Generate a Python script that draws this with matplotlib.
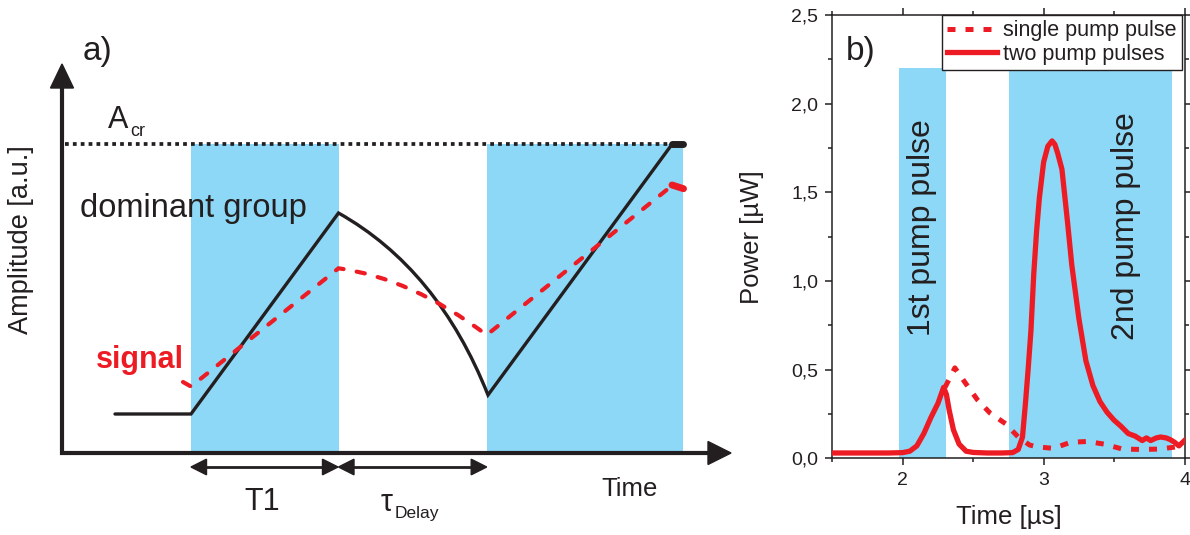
import matplotlib
matplotlib.use("Agg")
import matplotlib.pyplot as plt
from matplotlib.path import Path
from matplotlib.patches import PathPatch, Polygon, Rectangle
from matplotlib.ticker import MultipleLocator, FuncFormatter

plt.rcParams['font.family'] = ['Liberation Sans', 'DejaVu Sans']

INK = '#231f20'
RED = '#ed1c24'
PUMP = '#8ed8f7'

# ---------------- panel a: schematic (drawing units, y grows downward) ----------------
pump_windows_a = [(191, 338.5), (487, 683)]
a_critical_level = 144.3
a_critical_span = (65, 670)
# dominant group: flat, linear growth, decay (quadratic bezier), regrowth
dominant_pts = [(115, 414), (191, 414), (338.5, 213), (438, 269), (488, 395), (672, 144.3)]
dominant_codes = [Path.MOVETO, Path.LINETO, Path.LINETO, Path.CURVE3, Path.CURVE3, Path.LINETO]
dominant_cap = ([672, 683], [144.3, 144.3])
# signal: hook, growth, slow decay (quadratic bezier), regrowth
signal_pts = [(183, 382), (191, 386.5), (338.5, 268.3), (411, 278), (486.7, 335), (671.5, 186)]
signal_codes = [Path.MOVETO, Path.LINETO, Path.LINETO, Path.CURVE3, Path.CURVE3, Path.LINETO]
signal_cap = ([672, 683.5], [185, 188.7])
# time intervals marked under the time axis
interval_T1 = (191, 338)
interval_delay = (338.5, 486.7)

# ---------------- panel b: measured power ----------------
t_two = [1.50, 1.70, 1.90, 2.00, 2.05, 2.10, 2.15, 2.20, 2.25, 2.29, 2.31, 2.33, 2.36,
         2.40, 2.45, 2.50, 2.60, 2.70, 2.78, 2.82, 2.85, 2.87, 2.89, 2.91, 2.93, 2.95,
         2.97, 3.00, 3.03, 3.06, 3.08, 3.10, 3.13, 3.17, 3.20, 3.25, 3.30, 3.35, 3.40,
         3.45, 3.50, 3.55, 3.60, 3.65, 3.70, 3.73, 3.76, 3.80, 3.83, 3.87, 3.90, 3.93,
         3.96, 4.00]
p_two = [0.030, 0.030, 0.030, 0.032, 0.040, 0.070, 0.140, 0.230, 0.310, 0.400, 0.360,
         0.270, 0.160, 0.080, 0.040, 0.033, 0.030, 0.030, 0.032, 0.050, 0.120, 0.300,
         0.500, 0.720, 1.040, 1.280, 1.470, 1.670, 1.760, 1.790, 1.770, 1.720, 1.630,
         1.330, 1.090, 0.790, 0.550, 0.410, 0.320, 0.260, 0.215, 0.180, 0.140, 0.125,
         0.100, 0.115, 0.100, 0.115, 0.120, 0.115, 0.105, 0.090, 0.070, 0.100]
t_single = [2.30, 2.37, 2.44, 2.53, 2.62, 2.73, 2.82, 2.90, 2.95, 3.07, 3.19, 3.31,
            3.43, 3.56, 3.69, 3.82, 3.95, 4.00]
p_single = [0.40, 0.51, 0.43, 0.33, 0.255, 0.195, 0.12, 0.075, 0.065, 0.056, 0.09,
            0.095, 0.08, 0.052, 0.05, 0.052, 0.065, 0.07]
pump_windows_b = [(1.97, 2.31), (2.755, 3.91)]
pump_band_top = 2.2
pump_labels = ['1st pump pulse', '2nd pump pulse']
series_labels = ['single pump pulse', 'two pump pulses']
y_ticks = [0.0, 0.5, 1.0, 1.5, 2.0, 2.5]
x_ticks = [2, 3, 4]

W, H = 1190, 535
fig = plt.figure(figsize=(W / 100, H / 100), dpi=100)

# ---- panel a ----
ax = fig.add_axes([0, 0, 1, 1])
ax.set_xlim(0, W)
ax.set_ylim(H, 0)
ax.axis('off')

for x0, x1 in pump_windows_a:
    ax.add_patch(Rectangle((x0, a_critical_level), x1 - x0, 451 - a_critical_level,
                           facecolor=PUMP, edgecolor='none', zorder=1))

ax.plot(a_critical_span, [a_critical_level] * 2, color=INK, lw=2.7,
        linestyle=(0, (1.0, 1.1)), dash_capstyle='butt', zorder=3)

ax.add_patch(PathPatch(Path(dominant_pts, dominant_codes), fill=False, edgecolor=INK,
                       lw=2.4, capstyle='round', joinstyle='miter', zorder=4))
ax.plot(*dominant_cap, color=INK, lw=5, solid_capstyle='round', zorder=4)

ax.add_patch(PathPatch(Path(signal_pts, signal_codes), fill=False, edgecolor=RED,
                       lw=3.0, linestyle=(0, (2.0, 3.2)), capstyle='round', zorder=5))
ax.plot(*signal_cap, color=RED, lw=5, solid_capstyle='round', zorder=5)

# coordinate axes with arrow heads
ax.plot([62, 62], [455, 86], color=INK, lw=3, solid_capstyle='butt', zorder=6)
ax.add_patch(Polygon([(62, 64), (50.5, 88), (73.5, 88)], closed=True, color=INK, zorder=6))
ax.plot([60, 710], [453, 453], color=INK, lw=3, solid_capstyle='butt', zorder=6)
ax.add_patch(Polygon([(731, 453), (708, 441.5), (708, 464.5)], closed=True, color=INK, zorder=6))

def double_arrow(x0, x1, y):
    ax.plot([x0 + 8, x1 - 8], [y, y], color=INK, lw=2, zorder=6)
    ax.add_patch(Polygon([(x0, y), (x0 + 15.5, y - 7.8), (x0 + 15.5, y + 7.8)],
                         closed=True, color=INK, zorder=6))
    ax.add_patch(Polygon([(x1, y), (x1 - 15.5, y - 7.8), (x1 - 15.5, y + 7.8)],
                         closed=True, color=INK, zorder=6))

double_arrow(*interval_T1, 467)
double_arrow(*interval_delay, 467)

ax.text(83, 60, 'a)', fontsize=24, color=INK, va='baseline')
ax.text(108, 128.5, 'A', fontsize=22, color=INK, va='baseline')
ax.text(130.5, 135.5, 'cr', fontsize=13, color=INK, va='baseline')
ax.text(80, 217, 'dominant group', fontsize=23.5, color=INK, va='baseline')
ax.text(96, 368, 'signal', fontsize=22, color=RED, fontweight='bold', va='baseline')
ax.text(21.5, 240, 'Amplitude [a.u.]', fontsize=19.5, color=INK, rotation=90,
        ha='center', va='center')
ax.text(262, 510, 'T1', fontsize=22, color=INK, ha='center', va='baseline')
ax.text(381, 511, 'τ', fontsize=22, color=INK, va='baseline')
ax.text(395, 518, 'Delay', fontsize=12.5, color=INK, va='baseline')
ax.text(601, 496.5, 'Time', fontsize=18.5, color=INK, va='baseline')

# ---- panel b ----
bx = fig.add_axes([832.3 / W, 76.7 / H, 352.2 / W, 443.3 / H])
bx.set_xlim(1.5, 4)
bx.set_ylim(0, 2.5)

for x0, x1 in pump_windows_b:
    bx.fill_between([x0, x1], 0, pump_band_top, color=PUMP, lw=0, zorder=1)

l_single, = bx.plot(t_single, p_single, color=RED, lw=3.6,
                    linestyle=(0, (1.6, 2.0)), dash_capstyle='butt', zorder=3,
                    label=series_labels[0])
l_two, = bx.plot(t_two, p_two, color=RED, lw=3.8, solid_joinstyle='round', zorder=4,
                 label=series_labels[1])

bx.text(2.14, 1.30, pump_labels[0], rotation=90, ha='center', va='center',
        fontsize=23, color=INK, zorder=5)
bx.text(3.585, 1.31, pump_labels[1], rotation=90, ha='center', va='center',
        fontsize=23, color=INK, zorder=5)
bx.text(1.597, 2.248, 'b)', fontsize=24, color=INK, va='baseline')

leg = bx.legend(handles=[l_single, l_two], loc='upper right', bbox_to_anchor=(0.993, 1.0),
                borderaxespad=0, fontsize=15.5, frameon=True, fancybox=False,
                framealpha=1, edgecolor=INK, handlelength=2.3, handletextpad=0.3,
                borderpad=0.25, labelspacing=0.1)
leg.get_frame().set_linewidth(1.0)
for t in leg.get_texts():
    t.set_color(INK)

bx.set_yticks(y_ticks)
bx.yaxis.set_minor_locator(MultipleLocator(0.25))
bx.yaxis.set_major_formatter(FuncFormatter(lambda v, _: f'{v:.1f}'.replace('.', ',')))
bx.set_xticks(x_ticks)
bx.xaxis.set_minor_locator(MultipleLocator(0.5))
bx.tick_params(which='both', direction='out', colors=INK, width=1.1,
               top=True, right=True, labelsize=14)
bx.tick_params(which='major', length=5, pad=5)
bx.tick_params(which='minor', length=3.2)
for s in bx.spines.values():
    s.set_color(INK)
    s.set_linewidth(1.1)

bx.set_xlabel('Time [µs]', fontsize=18.5, color=INK)
bx.xaxis.set_label_coords(0.5, -0.105)
bx.set_ylabel('Power [µW]', fontsize=18.5, color=INK)
bx.yaxis.set_label_coords(-0.195, 0.5)

fig.savefig('out.png', dpi=100)
